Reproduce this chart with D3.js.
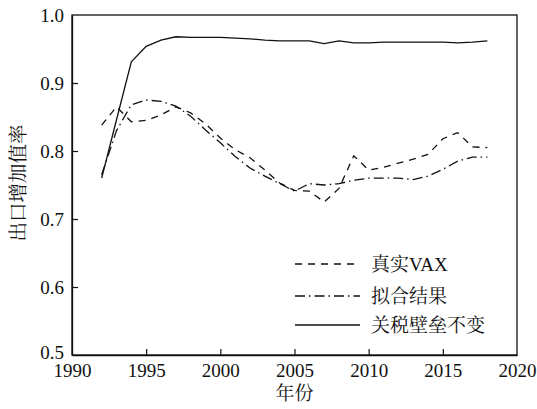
<!DOCTYPE html>
<html><head><meta charset="utf-8">
<script src="https://cdn.jsdelivr.net/npm/d3@7"></script>
<style>
html,body{margin:0;padding:0;background:#fff;}
svg{display:block;}
text{fill:#111;}
.serif{font-family:"Liberation Serif","Times New Roman",Times,"DejaVu Serif",serif;}
.cjk{font-family:"Liberation Serif","Times New Roman",Times,"Noto Serif CJK SC","Noto Sans CJK SC",serif;}
</style></head>
<body>
<svg id="chart" width="537" height="409"></svg>
<script>
const years = [1992,1993,1994,1995,1996,1997,1998,1999,2000,2001,2002,2003,2004,2005,2006,2007,2008,2009,2010,2011,2012,2013,2014,2015,2016,2017,2018];
const realVAX = [0.838,0.865,0.843,0.845,0.853,0.865,0.856,0.840,0.819,0.802,0.790,0.772,0.753,0.742,0.741,0.725,0.745,0.793,0.772,0.776,0.782,0.788,0.795,0.818,0.827,0.806,0.805];
const fitted  = [0.765,0.830,0.868,0.875,0.873,0.866,0.851,0.831,0.812,0.792,0.775,0.763,0.752,0.741,0.752,0.750,0.752,0.757,0.760,0.760,0.760,0.758,0.763,0.773,0.785,0.791,0.791];
const tariffConst = [0.760,0.846,0.931,0.954,0.963,0.968,0.967,0.967,0.967,0.966,0.965,0.963,0.962,0.962,0.962,0.958,0.962,0.959,0.959,0.960,0.960,0.960,0.960,0.960,0.959,0.960,0.962];
const seriesNames = ["真实VAX","拟合结果","关税壁垒不变"];
const xTicks = [1990,1995,2000,2005,2010,2015,2020];
const yTicks = [0.5,0.6,0.7,0.8,0.9,1.0];
const xTitle = "年份";
const yTitle = "出口增加值率";

const svg = d3.select("#chart");
const m = {l:72, r:20, t:15, b:54};
const W = 537, H = 409;
const x = d3.scaleLinear().domain([1990,2020]).range([m.l, W-m.r]);
const y = d3.scaleLinear().domain([0.5,1.0]).range([H-m.b, m.t]);

svg.append("rect").attr("x", x(1990)).attr("y", y(1.0))
  .attr("width", x(2020)-x(1990)).attr("height", y(0.5)-y(1.0))
  .attr("fill","none").attr("stroke","#111").attr("stroke-width",1.3);

const xAxis = svg.append("g").attr("transform",`translate(0,${y(0.5)})`)
  .call(d3.axisBottom(x).tickValues(xTicks).tickFormat(d3.format("d")).tickSizeInner(-6).tickSizeOuter(0).tickPadding(9));
const yAxis = svg.append("g").attr("transform",`translate(${x(1990)},0)`)
  .call(d3.axisLeft(y).tickValues(yTicks).tickFormat(d3.format(".1f")).tickSizeInner(-6).tickSizeOuter(0).tickPadding(8));
[xAxis,yAxis].forEach(g=>{
  g.attr("font-family", null).attr("font-size", null);
  g.select(".domain").attr("stroke","#111").attr("stroke-width",1.3);
  g.selectAll(".tick line").attr("stroke","#111").attr("stroke-width",1.2);
  g.selectAll(".tick text").attr("class","serif").style("font-size","19px").attr("fill","#111");
});
xAxis.selectAll(".tick").filter(d=>d===1990||d===2020).select("line").remove();
yAxis.selectAll(".tick").filter(d=>d===0.5||d===1.0).select("line").remove();
yAxis.selectAll(".tick").filter(d=>d===0.5).select("text").attr("dy","0.2em");

svg.append("text").attr("class","cjk").attr("x",(x(1990)+x(2020))/2).attr("y",400)
  .attr("text-anchor","middle").style("font-size","19px").text(xTitle);
svg.append("text").attr("class","cjk").attr("transform",`translate(25,183) rotate(-90)`)
  .attr("text-anchor","middle").style("font-size","19.5px").text(yTitle);

const line = vals => d3.line().x((d,i)=>x(years[i])).y(d=>y(d))(vals);
const styles = [
  {data: realVAX, dash:"7,6"},
  {data: fitted, dash:"10,4,1.5,4"},
  {data: tariffConst, dash:null}
];
styles.forEach(s=>{
  svg.append("path").attr("d", line(s.data)).attr("fill","none")
    .attr("stroke","#111").attr("stroke-width",1.3)
    .attr("stroke-dasharray", s.dash);
});

const legY = [264, 296, 325];
styles.forEach((s,i)=>{
  svg.append("line").attr("x1",295).attr("x2",360).attr("y1",legY[i]).attr("y2",legY[i])
    .attr("stroke","#111").attr("stroke-width",1.3).attr("stroke-dasharray", s.dash);
  svg.append("text").attr("class","cjk").attr("x",371).attr("y",legY[i]).attr("dy","0.35em")
    .style("font-size","19px").text(seriesNames[i]);
});
</script>
</body></html>
